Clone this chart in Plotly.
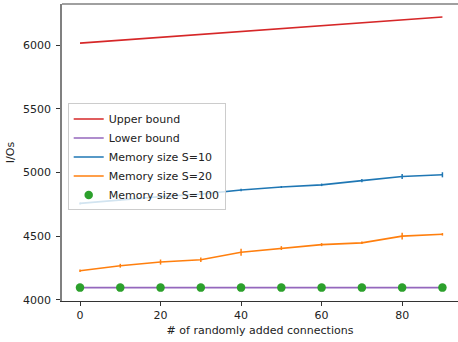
import plotly.graph_objects as go

x_vals = [0, 10, 20, 30, 40, 50, 60, 70, 80, 90]
upper_bound = [6017, 6040, 6063, 6086, 6109, 6131, 6154, 6177, 6200, 6222]
lower_bound = [4095, 4095, 4095, 4095, 4095, 4095, 4095, 4095, 4095, 4095]
s10 = [4757, 4785, 4810, 4830, 4862, 4886, 4903, 4936, 4968, 4982]
s10_err = [8, 8, 10, 10, 10, 8, 10, 12, 20, 20]
s20 = [4228, 4267, 4296, 4314, 4373, 4406, 4433, 4447, 4500, 4514]
s20_err = [10, 15, 20, 18, 27, 15, 12, 10, 27, 10]
s100 = [4095, 4095, 4095, 4095, 4095, 4095, 4095, 4095, 4095, 4095]
s100_err = [4, 4, 4, 4, 4, 4, 4, 4, 4, 4]
x_ticks = [0, 20, 40, 60, 80]
y_ticks = [4000, 4500, 5000, 5500, 6000]

FONT = "DejaVu Sans"
TXT = "#222222"
FS = 11

fig = go.Figure()
fig.add_trace(go.Scatter(x=x_vals, y=upper_bound, mode="lines", name="Upper bound",
                         line=dict(color="#d62728", width=1.6)))
fig.add_trace(go.Scatter(x=x_vals, y=lower_bound, mode="lines", name="Lower bound",
                         line=dict(color="#9467bd", width=1.6)))
fig.add_trace(go.Scatter(x=x_vals, y=s10, mode="lines", name="Memory size S=10",
                         line=dict(color="#1f77b4", width=1.6),
                         error_y=dict(type="data", array=s10_err, width=0, thickness=1.5,
                                      color="#1f77b4")))
fig.add_trace(go.Scatter(x=x_vals, y=s20, mode="lines", name="Memory size S=20",
                         line=dict(color="#ff7f0e", width=1.6),
                         error_y=dict(type="data", array=s20_err, width=0, thickness=1.5,
                                      color="#ff7f0e")))
fig.add_trace(go.Scatter(x=x_vals, y=s100, mode="markers", name="Memory size S=100",
                         marker=dict(color="#2ca02c", size=8.5, line=dict(width=0)),
                         error_y=dict(type="data", array=s100_err, width=0, thickness=1.5,
                                      color="#2ca02c")))

fig.update_layout(
    width=458, height=342,
    margin=dict(l=62, r=0, t=4, b=41),
    paper_bgcolor="white", plot_bgcolor="white",
    font=dict(family=FONT, size=FS, color=TXT),
    showlegend=True,
    legend=dict(x=0.0144, y=0.665, xanchor="left", yanchor="top",
                bgcolor="rgba(255,255,255,0.8)", bordercolor="#cccccc", borderwidth=1,
                font=dict(family=FONT, size=FS, color=TXT),
                tracegroupgap=0, itemwidth=30),
    xaxis=dict(range=[-4.47, 93.87], tickvals=x_ticks, showgrid=False, zeroline=False,
               automargin=False,
               showline=True, linecolor="#333333", linewidth=1.2,
               ticks="outside", ticklen=4, tickwidth=1, tickcolor="#333333",
               tickfont=dict(family=FONT, size=FS, color=TXT),
               title=dict(text="# of randomly added connections", standoff=5,
                          font=dict(family=FONT, size=FS, color=TXT))),
    yaxis=dict(range=[3989.8, 6324.6], tickvals=y_ticks, showgrid=False, zeroline=False,
               automargin=False,
               showline=True, linecolor="#808080", linewidth=1.5,
               ticks="outside", ticklen=4, tickwidth=1, tickcolor="#333333",
               ticklabelstandoff=3,
               tickfont=dict(family=FONT, size=FS, color=TXT),
               title=dict(text="I/Os", standoff=6,
                          font=dict(family=FONT, size=FS, color=TXT))),
    shapes=[dict(type="line", xref="paper", yref="paper", x0=0, x1=1, y0=1, y1=1,
                 line=dict(color="#808080", width=1.5))],
)

fig.write_html("out.html", config={"displayModeBar": False},
               post_script="document.body.style.margin='0';document.body.style.overflow='hidden';")
